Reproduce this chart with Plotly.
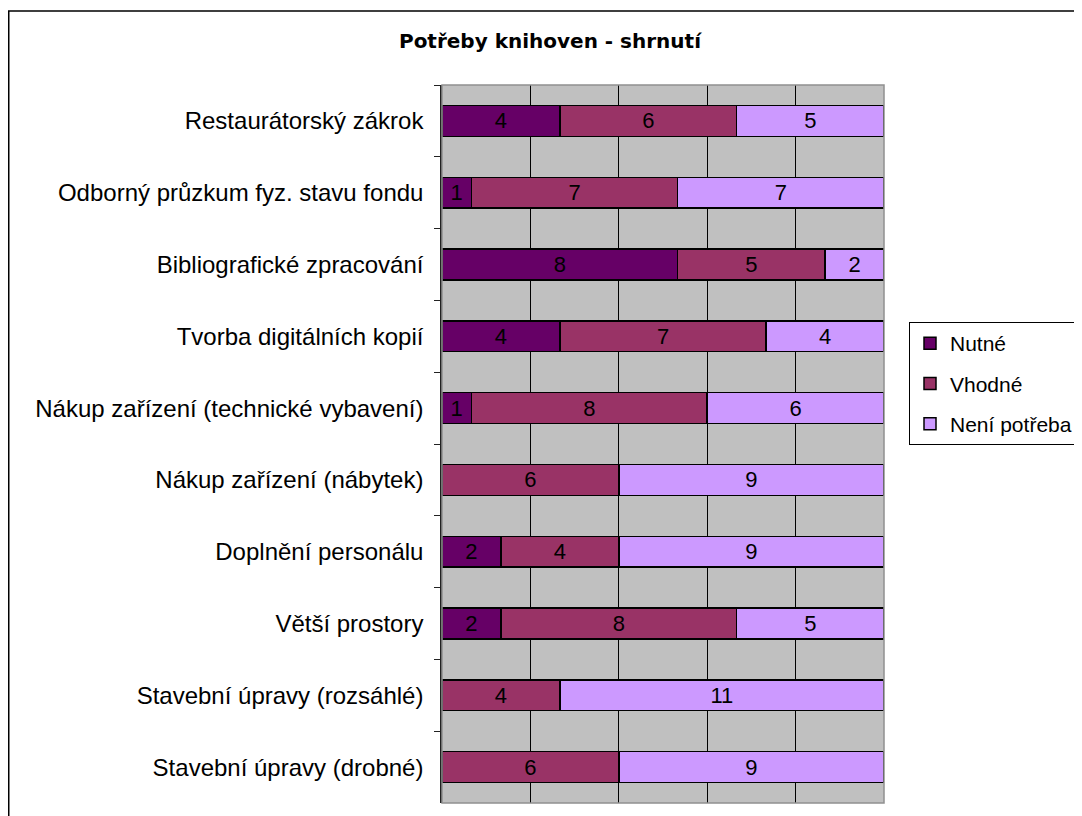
import plotly.graph_objects as go

categories = [
    "Restaurátorský zákrok",
    "Odborný průzkum fyz. stavu fondu",
    "Bibliografické zpracování",
    "Tvorba digitálních kopií",
    "Nákup zařízení (technické vybavení)",
    "Nákup zařízení (nábytek)",
    "Doplnění personálu",
    "Větší prostory",
    "Stavební úpravy (rozsáhlé)",
    "Stavební úpravy (drobné)",
]
nutne = [4, 1, 8, 4, 1, 0, 2, 2, 0, 0]
vhodne = [6, 7, 5, 7, 8, 6, 4, 8, 4, 6]
neni_potreba = [5, 7, 2, 4, 6, 9, 9, 5, 11, 9]

series = [
    ("Nutné", nutne, "#660066"),
    ("Vhodné", vhodne, "#993366"),
    ("Není potřeba", neni_potreba, "#CC99FF"),
]

FONT = "Liberation Sans, Arial, sans-serif"
OFF = 8  # browser body margin
W, H = 1082 - OFF, 816 - OFF
# target page-pixel geometry of the plot area
PX0, PX1, PY0, PY1 = 442, 884, 85, 803
L, R, T, B = PX0 - OFF, W - (PX1 - OFF), PY0 - OFF, H - (PY1 - OFF)
pw, ph = W - L - R, H - T - B

def px_x(x):
    return (x - OFF - L) / pw

def px_y(y):
    return (H - B - (y - OFF)) / ph

fig = go.Figure()
for i, (name, vals, color) in enumerate(series):
    fig.add_trace(go.Bar(
        y=categories, x=vals, name=name, orientation="h",
        marker=dict(color=color, line=dict(color="black", width=1.5)),
        text=[str(v) if v else "" for v in vals],
        textposition="inside", insidetextanchor="middle",
        textangle=0, constraintext="none",
        textfont=dict(family=FONT, size=22, color="black"),
        legendgroup=f"g{i}",
        hoverinfo="x+name",
    ))

fig.update_layout(
    width=W, height=H,
    margin=dict(l=L, r=R, t=T, b=B, pad=0, autoexpand=False),
    barmode="stack", bargap=0.57,
    paper_bgcolor="white", plot_bgcolor="#C0C0C0",
    font=dict(family=FONT, size=20, color="black"),
    title=dict(
        text="<b>Potřeby knihoven - shrnutí</b>",
        font=dict(family="DejaVu Sans, sans-serif", size=20, color="black"),
        xref="paper", x=px_x(550), xanchor="center",
        yref="container", y=1 - (41 - OFF) / H, yanchor="middle",
    ),
    showlegend=True,
    legend=dict(
        x=px_x(909), y=px_y(322), xanchor="left", yanchor="top",
        bordercolor="black", borderwidth=1, bgcolor="white",
        font=dict(family=FONT, size=21, color="black"),
        traceorder="grouped", tracegroupgap=10,
        itemwidth=30,
    ),
    xaxis=dict(
        range=[0, 15], dtick=3, showgrid=True, gridcolor="#000000", gridwidth=1,
        showticklabels=False, ticks="", zeroline=False, showline=False,
        fixedrange=True,
    ),
    yaxis=dict(
        autorange="reversed", type="category",
        showline=True, linecolor="#222222", linewidth=1.5,
        ticks="outside", tickson="boundaries", ticklen=6, tickcolor="#222222",
        showgrid=False, ticklabelstandoff=12,
        tickfont=dict(family=FONT, size=24, color="black"),
    ),
    shapes=[
        dict(type="rect", xref="paper", yref="paper",
             x0=0, x1=1, y0=0, y1=1,
             line=dict(color="#909090", width=1.5), layer="above"),
        dict(type="rect", xref="paper", yref="paper",
             x0=px_x(8.75), x1=px_x(1100), y0=px_y(11), y1=px_y(830),
             line=dict(color="black", width=1.5), layer="above"),
    ],
)

fig.write_html("out.html")
